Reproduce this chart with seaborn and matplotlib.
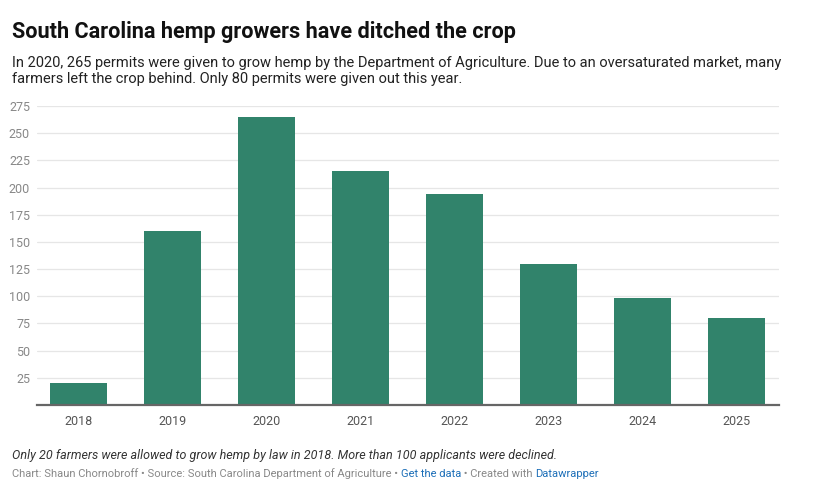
import matplotlib
matplotlib.use('Agg')
import matplotlib.pyplot as plt
import seaborn as sns

# data
years = ['2018', '2019', '2020', '2021', '2022', '2023', '2024', '2025']
permits = [20, 160, 265, 215, 194, 130, 98, 80]
yticks = [25, 50, 75, 100, 125, 150, 175, 200, 225, 250, 275]

title = 'South Carolina hemp growers have ditched the crop'
subtitle = ('In 2020, 265 permits were given to grow hemp by the Department of Agriculture. '
            'Due to an oversaturated market, many\n'
            'farmers left the crop behind. Only 80 permits were given out this year.')
note = 'Only 20 farmers were allowed to grow hemp by law in 2018. More than 100 applicants were declined.'
credits = [('Chart: Shaun Chornobroff \u2022 Source: South Carolina Department of Agriculture \u2022 ', '#888888'),
           ('Get the data', '#1d6fb8'),
           (' \u2022 Created with ', '#888888'),
           ('Datawrapper', '#1d6fb8')]

bar_color = '#31836b'

sns.set_theme(style='white')
plt.rcParams['font.family'] = ['Roboto', 'DejaVu Sans']

fig = plt.figure(figsize=(8.16, 4.9), dpi=100)
ax = fig.add_axes([0.0453, 0.1735, 0.9094, 0.6102])

sns.barplot(x=years, y=permits, color=bar_color, saturation=1, width=0.61,
            edgecolor='none', ax=ax)

ax.set_xlim(-0.44, 7.45)
ax.set_ylim(0, 275)
ax.set_yticks(yticks)
ax.yaxis.grid(True, color='#e6e6e6', linewidth=0.9)
ax.set_axisbelow(True)
for s in ['left', 'right', 'top']:
    ax.spines[s].set_visible(False)
ax.spines['bottom'].set_color('#666666')
ax.spines['bottom'].set_linewidth(1.6)
ax.tick_params(axis='y', length=0, pad=5, labelsize=9, labelcolor='#888888')
ax.tick_params(axis='x', length=0, pad=7, labelsize=9, labelcolor='#555555')
ax.set_xlabel('')
ax.set_ylabel('')

fig.text(12 / 816, 1 - 32 / 490, title, fontsize=15.6, fontweight='bold', color='#111111', va='center')
fig.text(12 / 816, 1 - 56 / 490, subtitle, fontsize=10.55, color='#222222', va='top', linespacing=1.2)
fig.text(12 / 816, 1 - 456 / 490, note, fontsize=8.97, style='italic', color='#333333', va='center')

prev = None
for txt, col in credits:
    if prev is None:
        prev = fig.text(12 / 816, 1 - 474 / 490, txt, fontsize=8.0, color=col, va='center')
    else:
        prev = ax.annotate(txt, xy=(1, 0.5), xycoords=prev, fontsize=8.0, color=col,
                           va='center', ha='left', annotation_clip=False)

fig.savefig('out.png', dpi=100)
